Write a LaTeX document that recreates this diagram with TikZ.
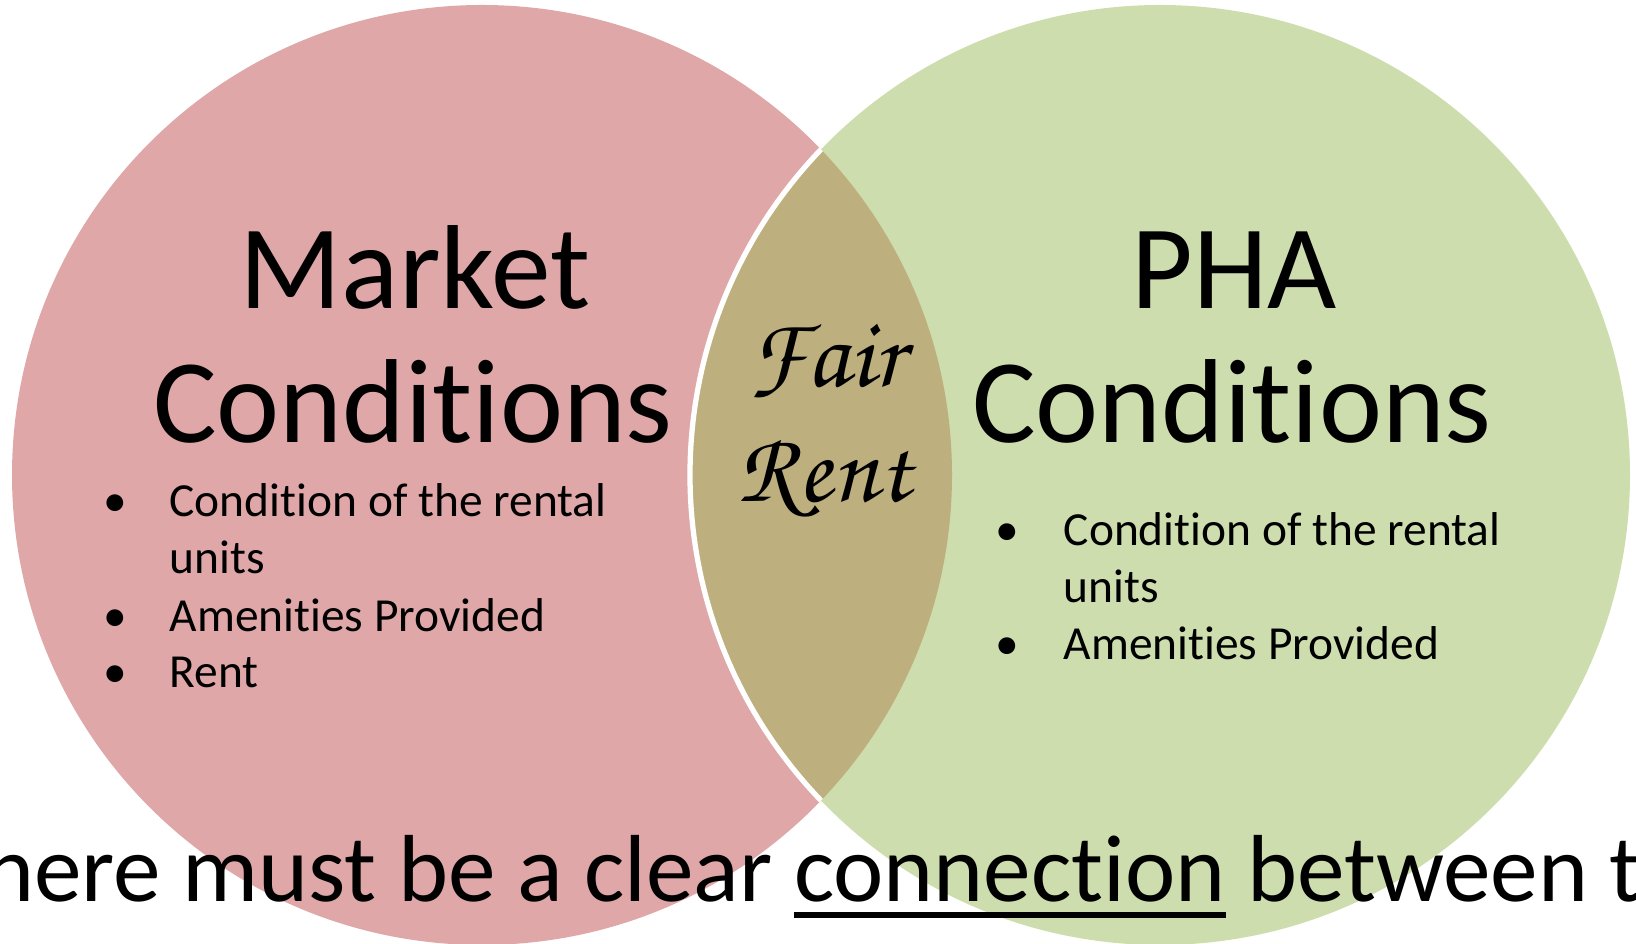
\documentclass[tikz,border=0pt]{standalone}
\usepackage{fontspec}
\setmainfont{Carlito}[Ligatures=CommonOff]
\newfontfamily\fancyfont{texgyrechorus-mediumitalic.otf}
\usepackage{tikz}

\definecolor{marketpink}{RGB}{223,167,167}
\definecolor{phagreen}{RGB}{205,221,174}
\definecolor{fairtan}{RGB}{189,176,126}

\newcommand{\titlesize}{\fontsize{34}{40}\selectfont}
\newcommand{\itemsize}{\fontsize{13.5}{16.2}\selectfont}
\newcommand{\fairsize}{\fancyfont\fontsize{28.5}{32}\selectfont}
\newcommand{\thickul}[1]{\setbox0=\hbox{#1}\rlap{\rule[-0.16cm]{\wd0}{0.06cm}}\box0\relax}

\begin{document}
\begin{tikzpicture}[inner sep=0pt]
  \clip (0,0) rectangle (16.36,9.44);
  \coordinate (mc) at (4.82,4.69);
  \coordinate (pc) at (11.60,4.69);
  % the two sets and their overlap
  \fill[marketpink] (mc) circle (4.70);
  \fill[phagreen] (pc) circle (4.70);
  \begin{scope}
    \clip (mc) circle (4.70);
    \fill[fairtan] (pc) circle (4.70);
    \draw[white, line width=1.5pt] (pc) circle (4.70);
  \end{scope}

  % left set
  \node[anchor=base, font=\titlesize] (mkt) at (4.15,6.35) {Market};
  \node[anchor=base, font=\titlesize] (mktcond) at (4.13,5.01) {Conditions};
  \node[anchor=base, font=\itemsize] (mb1) at (1.15,4.27) {•};
  \node[anchor=base west, font=\itemsize] (mi1) at (1.69,4.27) {Condition of the rental};
  \node[anchor=base west, font=\itemsize] (mi1b) at (1.69,3.70) {units};
  \node[anchor=base, font=\itemsize] (mb2) at (1.15,3.12) {•};
  \node[anchor=base west, font=\itemsize] (mi2) at (1.69,3.12) {Amenities Provided};
  \node[anchor=base, font=\itemsize] (mb3) at (1.15,2.56) {•};
  \node[anchor=base west, font=\itemsize] (mi3) at (1.69,2.56) {Rent};

  % right set
  \node[anchor=base, font=\titlesize] (pha) at (12.34,6.35) {PHA};
  \node[anchor=base, font=\titlesize] (phacond) at (12.32,5.01) {Conditions};
  \node[anchor=base, font=\itemsize] (pb1) at (10.07,3.98) {•};
  \node[anchor=base west, font=\itemsize] (pi1) at (10.63,3.98) {Condition of the rental};
  \node[anchor=base west, font=\itemsize] (pi1b) at (10.63,3.41) {units};
  \node[anchor=base, font=\itemsize] (pb2) at (10.07,2.84) {•};
  \node[anchor=base west, font=\itemsize] (pi2) at (10.63,2.84) {Amenities Provided};

  % overlap
  \node[anchor=base, font=\fairsize] (fair) at (8.26,5.57) {Fair};
  \node[anchor=base, font=\fairsize] (rent) at (8.24,4.42) {Rent};

  % line along the bottom
  \node[anchor=base west, font=\fontsize{27.1}{32}\selectfont] (claim) at (-0.165,0.42)
    {here must be a clear \thickul{connection} between t};
\end{tikzpicture}
\end{document}
